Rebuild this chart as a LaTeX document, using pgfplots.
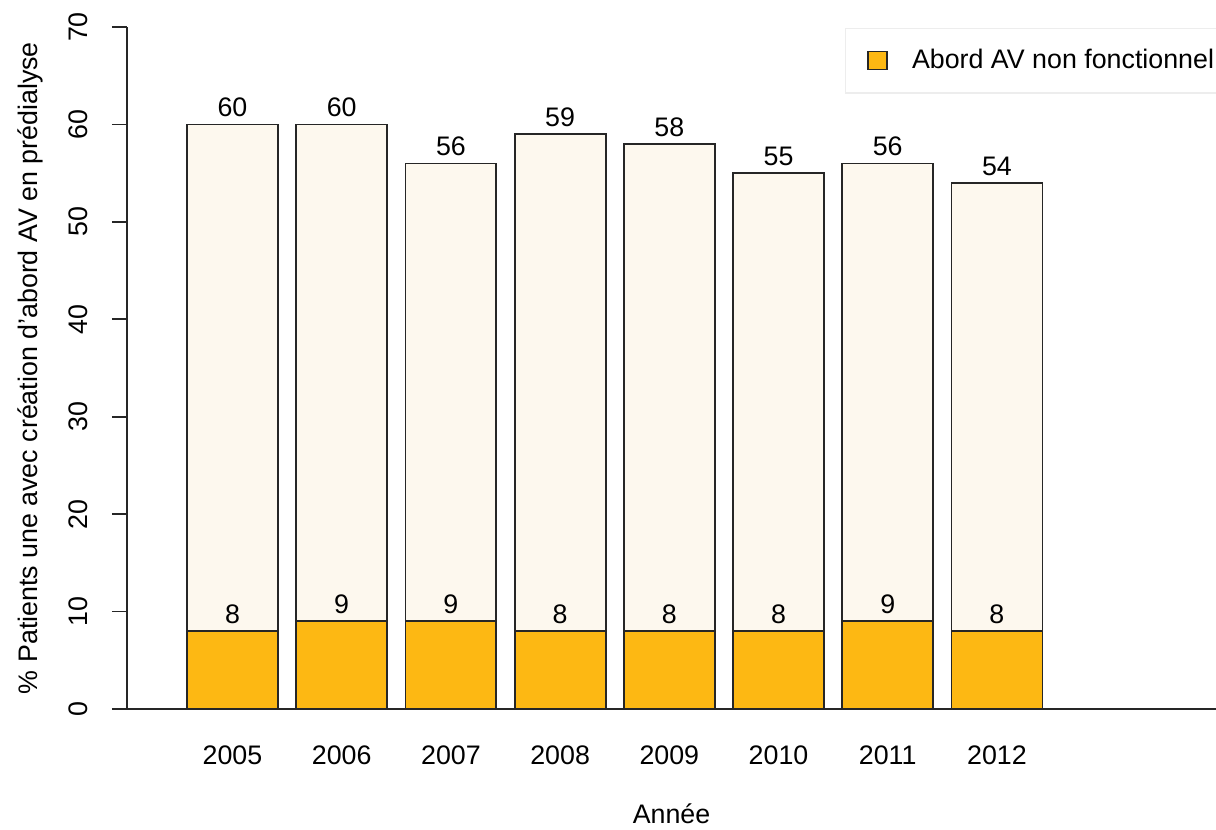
\documentclass[border=0pt]{standalone}
\usepackage{fontspec}
\setmainfont{Liberation Sans}
\usepackage{pgfplots}
\pgfplotsset{compat=1.18}
\definecolor{creme}{HTML}{FDF8EE}
\definecolor{orangeav}{HTML}{FDB813}
\definecolor{bord}{HTML}{262626}

\begin{document}
\begin{tikzpicture}[font=\fontsize{13.4}{16}\selectfont]
\useasboundingbox (-63.5pt,-60.5pt) rectangle (544.5pt,354.5pt);
\begin{axis}[
  at={(0,0)}, anchor=south west,
  scale only axis, width=544.5pt, height=341pt,
  xmin=-0.966, xmax=9.006, ymin=0, ymax=70,
  axis lines*=left,
  axis line style={bord, line width=0.9pt},
  ytick={0,10,...,70},
  xtick={0,...,7},
  xticklabels={2005,2006,2007,2008,2009,2010,2011,2012},
  x tick style={draw=none},
  y tick style={bord, line width=0.9pt},
  tick align=outside, major tick length=7.5pt,
  yticklabel style={rotate=90, anchor=south},
  yticklabel shift=8.5pt,
  xticklabel shift=7.5pt,
  /pgf/number format/assume math mode=true,
  ylabel={\% Patients une avec création d'abord AV en prédialyse},
  xlabel={Année},
  every axis y label/.style={at={(axis description cs:-0.0891,0.5)}, rotate=90, anchor=center},
  every axis x label/.style={at={(axis description cs:0.5,-0.153)}, anchor=center},
  ybar, bar shift=0pt, bar width=0.833,
  nodes near coords,
  every node near coord/.append style={font=\fontsize{13.4}{16}\selectfont, text=black},
  legend style={at={(0.659,0.999)}, anchor=north west, draw=black!7, line width=0.8pt,
    fill=white, inner xsep=11pt, inner ysep=8.5pt, column sep=10pt},
  legend image code/.code={\draw[fill=orangeav, draw=bord, line width=0.8pt] (0pt,-4.5pt) rectangle (9.5pt,4.5pt);},
  legend cell align=left,
]
\addplot[fill=creme, draw=bord, line width=0.9pt, forget plot] coordinates {
  (0,60) (1,60) (2,56) (3,59) (4,58) (5,55) (6,56) (7,54)};
\addplot[fill=orangeav, draw=bord, line width=0.9pt] coordinates {
  (0,8) (1,9) (2,9) (3,8) (4,8) (5,8) (6,9) (7,8)};
\addlegendentry{Abord AV non fonctionnel}
\end{axis}
\end{tikzpicture}
\end{document}
